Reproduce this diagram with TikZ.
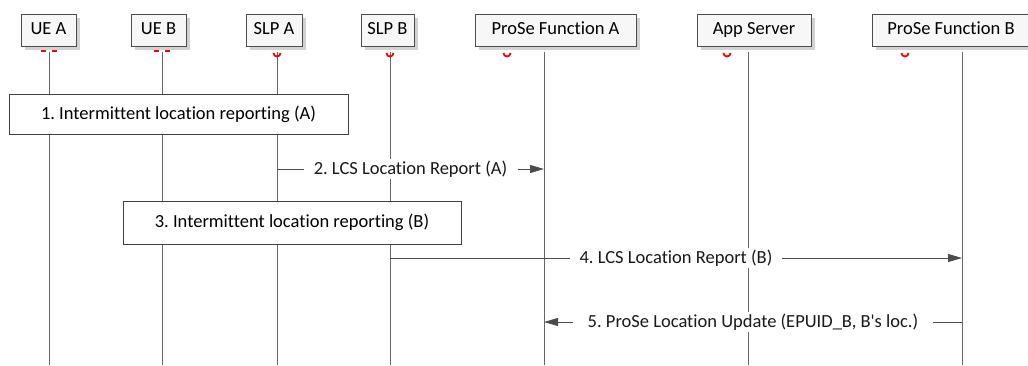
\documentclass[tikz,border=0pt]{standalone}
\usepackage{fontspec}
\setmainfont{Carlito}[Ligatures={NoCommon,TeX}]
\usetikzlibrary{arrows.meta,shadows}

\tikzset{
  head/.style={draw=black!70, fill=gray!6, minimum height=32pt, inner sep=0pt,
    text height=12.5pt, text depth=4pt,
    drop shadow={shadow xshift=4pt, shadow yshift=-4pt, fill=gray!35, opacity=1}},
  life/.style={draw=black!60, line width=0.9pt},
  stepbox/.style={draw=black!75, fill=white, line width=0.9pt, inner sep=0pt},
  msg/.style={draw=black!70, line width=0.9pt, -{Triangle[length=14pt,width=8pt]}},
  lbl/.style={fill=white, inner sep=0pt, minimum height=20pt, text=black!90},
  redbit/.style={draw=red, line width=1.8pt}
}

\begin{document}
\begin{tikzpicture}[x=1pt,y=-1pt,font=\fontsize{18.5}{22}\selectfont]
\useasboundingbox (0,0) rectangle (1028,365);

% lifeline ends
\coordinate (uea-t) at (49,52);   \coordinate (uea-b) at (49,365);
\coordinate (ueb-t) at (162,52);  \coordinate (ueb-b) at (162,365);
\coordinate (slpa-t) at (277,52); \coordinate (slpa-b) at (277,365);
\coordinate (slpb-t) at (390,52); \coordinate (slpb-b) at (390,365);
\coordinate (pfa-t) at (544,52);  \coordinate (pfa-b) at (544,365);
\coordinate (app-t) at (748,52);  \coordinate (app-b) at (748,365);
\coordinate (pfb-t) at (962,52);  \coordinate (pfb-b) at (962,365);

\draw[life] (uea-t)--(uea-b);
\draw[life] (ueb-t)--(ueb-b);
\draw[life] (slpa-t)--(slpa-b);
\draw[life] (slpb-t)--(slpb-b);
\draw[life] (pfa-t)--(pfa-b);
\draw[life] (app-t)--(app-b);
\draw[life] (pfb-t)--(pfb-b);

% heads
\node[head, minimum width=55pt] (uea) at (48.5,30) {UE A};
\node[head, minimum width=55pt] (ueb) at (158.5,30) {UE B};
\node[head, minimum width=56pt] (slpa) at (274,30) {SLP A};
\node[head, minimum width=53pt] (slpb) at (387.5,30) {SLP B};
\node[head, minimum width=161pt] (pfa) at (555.5,30) {ProSe Function A};
\node[head, minimum width=114pt] (app) at (754,30) {App Server};
\node[head, minimum width=158pt] (pfb) at (951,30) {ProSe Function B};

% red bits
\draw[redbit] (41,51)--(46,51) (52,51)--(57,51);
\draw[redbit] (154,51)--(159,51) (165,51)--(170,51);
\draw[redbit] (273.5,53) arc (180:0:3.5);
\draw[redbit] (386.5,53) arc (180:0:3.5);
\draw[redbit] (503.5,53) arc (180:0:3.5);
\draw[redbit] (723.5,53) arc (180:0:3.5);
\draw[redbit] (901.5,53) arc (180:0:3.5);

% steps
\node[stepbox, minimum width=339pt, minimum height=40pt] (s1) at (178.5,114) {1.\ Intermittent location reporting (A)};
\coordinate (m2) at (0,169);
\draw[msg] (slpa-t |- m2) -- node[lbl, minimum width=214pt] (s2) {2.\ LCS Location Report (A)} (pfa-t |- m2);
\node[stepbox, minimum width=338pt, minimum height=43pt] (s3) at (292,222.5) {3.\ Intermittent location reporting (B)};
\coordinate (m4) at (0,258);
\draw[msg] (slpb-t |- m4) -- node[lbl, minimum width=212pt] (s4) {4.\ LCS Location Report (B)} (pfb-t |- m4);
\coordinate (m5) at (0,322);
\draw[msg] (pfb-t |- m5) -- node[lbl, minimum width=360pt] (s5) {5.\ ProSe Location Update (EPUID\_B, B\textquotesingle s loc.)} (pfa-t |- m5);

\end{tikzpicture}
\end{document}
